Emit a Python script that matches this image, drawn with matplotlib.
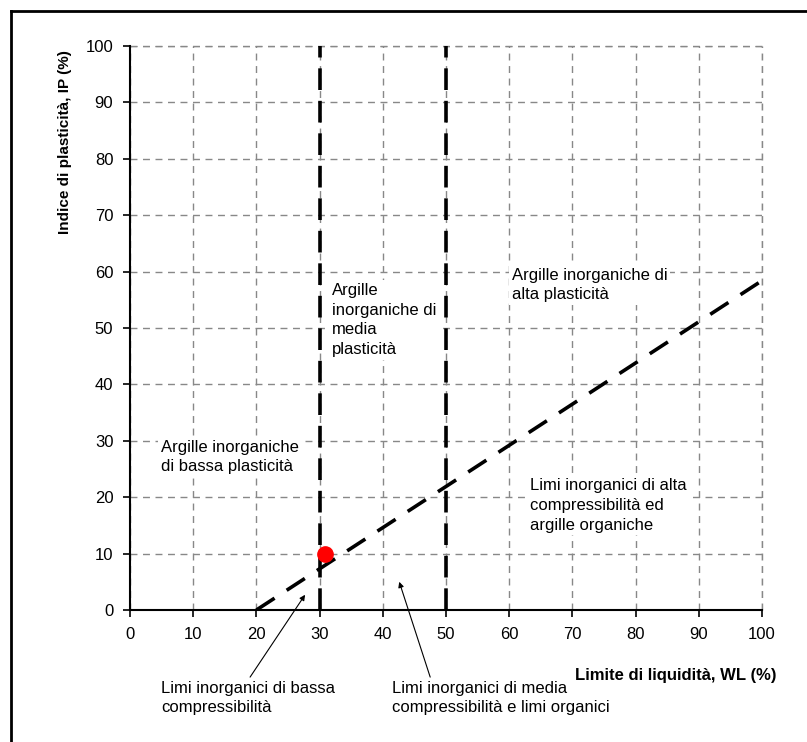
import matplotlib.pyplot as plt
from matplotlib.lines import Line2D

plt.rcParams['font.family'] = ['Liberation Sans', 'DejaVu Sans']

# Casagrande plasticity chart
wl_limits = [30, 50]              # vertical boundaries (WL %)
a_line_wl = [20, 100]             # A-line: IP = 0.73 (WL - 20)
a_line_ip = [0, 58.4]
sample_wl = [30.8]
sample_ip = [10]
ticks = [0, 10, 20, 30, 40, 50, 60, 70, 80, 90, 100]

zone_labels = [
    ('Argille inorganiche\ndi bassa plasticità', 4.9, 30.2),
    ('Argille\ninorganiche di\nmedia\nplasticità', 32.0, 58.0),
    ('Argille inorganiche di\nalta plasticità', 60.4, 60.7),
    ('Limi inorganici di alta\ncompressibilità ed\nargille organiche', 63.3, 23.4),
]
arrow_labels = [
    ('Limi inorganici di bassa\ncompressibilità', (4.9, -12.5), (19.0, -11.9), (27.7, 2.7)),
    ('Limi inorganici di media\ncompressibilità e limi organici', (41.5, -12.5), (47.5, -11.9), (42.6, 5.0)),
]

fig = plt.figure(figsize=(8.07, 7.42), dpi=100)
ax = fig.add_axes([130/807, 1-610/742, 632/807, 564/742])

ax.set_xlim(0, 100)
ax.set_ylim(0, 100)
ax.set_xticks(ticks)
ax.set_yticks(ticks)
ax.tick_params(direction='out', length=5, width=1.2, labelsize=12, pad=7)
for s in ['top', 'right']:
    ax.spines[s].set_visible(False)
for s in ['left', 'bottom']:
    ax.spines[s].set_linewidth(1.5)
ax.grid(True, color='#888888', linestyle=(0, (5, 4)), linewidth=1.0, zorder=0)
ax.set_axisbelow(True)

# top / right grid borders (dashed, like the gridlines)
ax.axhline(100, color='#888888', linestyle=(0, (5, 4)), linewidth=1.0, zorder=0, clip_on=False)
ax.axvline(100, color='#888888', linestyle=(0, (5, 4)), linewidth=1.0, zorder=0, clip_on=False)

for wl in wl_limits:
    ax.plot([wl, wl], [0, 100], color='black', linewidth=2.6, dashes=(6, 3), zorder=4)
ax.plot(a_line_wl, a_line_ip, color='black', linewidth=2.6, dashes=(6, 4), zorder=4)

ax.plot(sample_wl, sample_ip, 'o', color='red', markersize=11, zorder=5)

for txt, x, y in zone_labels:
    ax.text(x, y, txt, fontsize=12, ha='left', va='top', linespacing=1.4, zorder=3,
            bbox=dict(facecolor='white', edgecolor='none', pad=2))

for txt, pos, tail, head in arrow_labels:
    ax.text(pos[0], pos[1], txt, fontsize=12, ha='left', va='top', linespacing=1.4,
            clip_on=False)
    ax.annotate('', xy=head, xytext=tail, annotation_clip=False,
                arrowprops=dict(arrowstyle='-|>', color='black', lw=0.8,
                                mutation_scale=8, shrinkA=0, shrinkB=0))

ax.set_xlabel('Limite di liquidità, WL (%)', fontsize=12, fontweight='bold', ha='right')
ax.xaxis.set_label_coords((777-130)/632, (610-668)/564)
ax.set_ylabel('Indice di plasticità, IP (%)', fontsize=11, fontweight='bold', va='center', ha='right')
ax.yaxis.set_label_coords((65-130)/632, (610-50)/564)

# page frame (left and top edges)
fig.add_artist(Line2D([11/807, 11/807], [0, 1-11/742], color='black', linewidth=2,
                      transform=fig.transFigure))
fig.add_artist(Line2D([11/807, 1], [1-11/742, 1-11/742], color='black', linewidth=2,
                      transform=fig.transFigure))

plt.savefig('out.png', dpi=100)
